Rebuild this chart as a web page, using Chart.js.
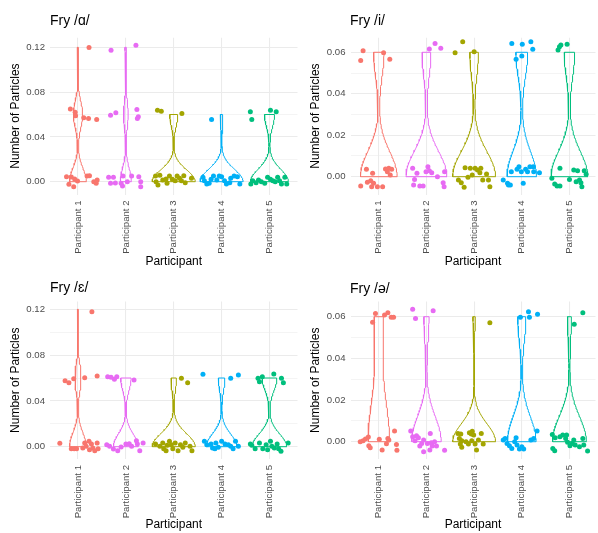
<!DOCTYPE html>
<html>
<head>
<meta charset="utf-8">
<script src="https://cdn.jsdelivr.net/npm/chart.js@4.4.1/dist/chart.umd.min.js"></script>
<style>
  html, body { margin: 0; padding: 0; background: #ffffff; }
  body { width: 598px; height: 533px; position: relative; overflow: hidden; }
  canvas { position: absolute; }
</style>
</head>
<body>
<canvas id="pA" width="300" height="270" style="left:0px;top:0px;"></canvas>
<canvas id="pI" width="298" height="270" style="left:300px;top:0px;"></canvas>
<canvas id="pE" width="300" height="263" style="left:0px;top:270px;"></canvas>
<canvas id="pS" width="298" height="263" style="left:300px;top:270px;"></canvas>
<script>
// Participants and their colours
const participants = ['Participant 1', 'Participant 2', 'Participant 3', 'Participant 4', 'Participant 5'];
const participantColors = ['#F8766D', '#E76BF3', '#A3A500', '#00B0F6', '#00BF7D'];

// Panel titles
const titleA = 'Fry /ɑ/';
const titleI = 'Fry /i/';
const titleE = 'Fry /ɛ/';
const titleS = 'Fry /ə/';

// Y axis ticks
const ticksWide = [0, 0.04, 0.08, 0.12];
const minorWide = [0.02, 0.06, 0.10];
const ticksNarrow = [0, 0.02, 0.04, 0.06];
const minorNarrow = [0.01, 0.03, 0.05];

// Jittered observations per participant: [horizontal jitter, number of particles]
const fryA = [
  [[0.23,0.1198],[-0.16,0.065],[-0.06,0.062],[-0.05,0.059],[0.12,0.057],[0.22,0.0565],[0.39,0.0556],[-0.24,0.0045],[-0.14,0.0042],[-0.07,0.0024],[-0.01,0.0006],[-0.19,-0.0023],[-0.09,-0.0045],[0.19,0.0051],[0.24,0.0053],[0.33,0.0],[0.38,-0.0014],[0.40,0.0015]],
  [[-0.31,0.1174],[0.21,0.1218],[-0.32,0.0594],[-0.21,0.0615],[0.23,0.0645],[0.26,0.058],[0.24,0.0565],[-0.36,0.0039],[-0.26,0.0039],[-0.32,-0.0014],[-0.22,-0.0012],[-0.10,-0.0014],[-0.07,-0.0038],[-0.06,0.0051],[0.12,0.0051],[0.27,0.0045],[0.31,0.0],[0.31,-0.0045],[0.03,0.0]],
  [[-0.34,0.0639],[-0.26,0.063],[0.17,0.061],[-0.38,0.0051],[-0.29,0.0057],[-0.37,0.0],[-0.33,-0.003],[-0.23,0.0015],[-0.16,0.0024],[-0.09,0.0051],[-0.03,0.0021],[0.03,0.0009],[0.12,0.003],[0.16,0.0009],[0.21,0.0053],[0.24,-0.0009],[0.37,0.003],[-0.14,-0.0014],[0.07,0.0051]],
  [[-0.21,0.0556],[-0.39,0.0039],[-0.36,0.0009],[-0.31,-0.0021],[-0.22,0.0021],[-0.17,0.0051],[-0.10,0.0015],[-0.05,0.0051],[0,0.0045],[0.06,0.0009],[0.10,-0.0021],[0.17,-0.0009],[0.26,0.0051],[0.33,0.0045],[0.38,-0.0021],[-0.26,-0.0014],[0.19,0.003]],
  [[-0.40,0.0624],[-0.37,0.0556],[0.02,0.0639],[0.14,0.0624],[-0.39,-0.0021],[-0.35,0.0009],[-0.28,-0.0009],[-0.23,0.0015],[-0.17,0],[-0.04,0.0039],[0.02,0.0021],[0.07,0.0009],[0.17,0.0039],[0.21,0.0009],[0.25,-0.0021],[0.32,0.0039],[0.36,-0.0021],[-0.10,-0.0014],[0.12,0]]
];
const fryI = [
  [[-0.33,0.0608],[-0.38,0.056],[0.10,0.0598],[0.23,0.0566],[-0.26,0.0036],[-0.13,0.0016],[-0.38,-0.0045],[-0.24,-0.0027],[-0.17,-0.0019],[-0.11,-0.0032],[-0.15,-0.0048],[-0.03,-0.0048],[0.08,-0.0048],[0.14,0.0037],[0.21,0.0041],[0.27,0.0036],[0.24,0.0008],[0.18,0.0024]],
  [[0.06,0.0616],[0.18,0.0643],[0.30,0.0619],[-0.29,0.0041],[-0.20,0.0016],[-0.25,-0.0013],[-0.27,-0.004],[-0.14,-0.0045],[-0.07,-0.0045],[-0.01,0.0024],[0.03,0.0048],[0.06,0.0029],[0.11,0.0019],[0.23,0],[0.38,0.0024],[0.35,-0.0029],[0.37,-0.0048]],
  [[-0.40,0.0598],[-0.24,0.0651],[0,0.0603],[-0.33,-0.0016],[-0.27,-0.0029],[-0.21,-0.0051],[-0.19,0.0043],[-0.08,0.0041],[-0.04,0.0008],[0.02,0.0041],[0.07,0.0032],[0.14,0.0041],[0.12,0.0019],[0.18,-0.0016],[0.26,0.0013],[0.30,-0.0016],[0.33,-0.0048],[-0.13,-0.0003]],
  [[-0.21,0.0643],[0.01,0.0639],[0.19,0.0651],[0.23,0.0615],[-0.12,0.0566],[0,0.0582],[-0.39,-0.0016],[-0.30,-0.0032],[-0.24,-0.004],[-0.22,0.0024],[-0.10,0.0036],[-0.06,0.0048],[-0.01,0.0024],[0.03,-0.0032],[0.08,0.0036],[0.12,0.0024],[0.17,0.0048],[0.24,0.0048],[0.25,0.0024],[0.37,0.0019],[-0.28,-0.004]],
  [[-0.24,0.0611],[-0.21,0.0627],[-0.18,0.0635],[-0.05,0.0639],[-0.37,-0.0008],[-0.31,-0.0035],[-0.26,-0.0045],[-0.20,0.0041],[-0.20,-0.0045],[0,-0.0013],[0.09,0.0032],[0.17,0.0029],[0.21,-0.0016],[0.24,-0.0029],[0.26,-0.0048],[0.31,0.0029],[0.35,0.0012],[0.14,-0.0024]]
];
const fryE = [
  [[0.29,0.1179],[-0.27,0.0576],[-0.19,0.0559],[-0.09,0.0594],[0.14,0.0603],[0.40,0.0617],[-0.38,0.003],[-0.14,-0.0017],[-0.08,-0.0017],[-0.03,-0.0017],[0.14,0.0032],[0.17,0.0003],[0.23,0.0047],[0.28,0.0024],[0.31,-0.0011],[0.24,-0.0026],[0.35,-0.0035],[0.40,0.0032],[0.42,-0.0017],[0.10,-0.0011]],
  [[-0.38,0.0611],[-0.31,0.0606],[-0.24,0.0589],[-0.19,0.0611],[0.17,0.0583],[-0.40,0.0018],[-0.34,0.0003],[-0.26,-0.002],[-0.17,-0.0035],[-0.10,-0.0003],[0,0.0024],[0.07,0.0026],[0.12,0.0003],[0.22,0.0052],[0.24,0.0024],[0.29,-0.0035],[0.36,0.0032]],
  [[0.16,0.0597],[0.29,0.0559],[-0.38,0.0024],[-0.29,0.0003],[-0.23,0.0032],[-0.21,-0.0017],[-0.14,0.0012],[-0.09,0.0047],[-0.05,0.0018],[-0.02,-0.0017],[0.03,0.0032],[0.09,-0.0035],[0.14,0.0018],[0.19,-0.0005],[0.24,0.0032],[0.34,0.0003],[0.38,-0.0035],[-0.16,-0.0035]],
  [[-0.39,0.0632],[0.19,0.0597],[0.35,0.0626],[-0.36,0.0047],[-0.31,0.0018],[-0.22,0.0024],[-0.19,-0.0011],[-0.14,-0.0017],[-0.12,0.0032],[0,0.0047],[0.07,0.0024],[0.14,0.0018],[0.19,0.0003],[0.24,-0.0017],[0.29,0.0047],[0.35,0.0003],[-0.07,-0.0005]],
  [[-0.24,0.0597],[-0.21,0.0568],[-0.15,0.0611],[0.09,0.0635],[0.25,0.0597],[0.29,0.0559],[-0.40,0.0024],[-0.37,0.0012],[-0.30,-0.0017],[-0.21,0.0032],[-0.14,-0.0017],[-0.07,0.0018],[0.02,0.0047],[0.05,0.0003],[0.10,-0.0011],[0.16,0.0024],[0.19,-0.0017],[0.24,-0.004],[0.39,0.0032],[-0.04,-0.0026]]
];
const fryS = [
  [[-0.13,0.0573],[-0.07,0.0616],[0.12,0.0608],[0.19,0.0619],[0.26,0.0597],[0.31,0.0597],[-0.39,0],[-0.33,0.0005],[-0.28,0.0013],[-0.22,0.0023],[-0.21,-0.0019],[-0.18,-0.0029],[0.01,0.0012],[0.07,-0.004],[0.16,-0.001],[0.21,0.0008],[0.33,0.0051],[0.37,-0.0013],[0.38,-0.0041],[0.19,0.0016]],
  [[-0.29,0.0636],[-0.23,0.0592],[0.14,0.0629],[-0.33,0.0051],[-0.29,0.0024],[-0.21,0.0029],[-0.17,0.0019],[-0.24,0.0005],[-0.10,-0.0008],[-0.06,0.0008],[0.02,-0.0008],[0.08,0.004],[0.10,-0.0005],[0.12,-0.0021],[0.07,-0.004],[-0.06,-0.0048],[0.17,0],[0.21,-0.0021],[0.38,-0.0041],[-0.14,-0.0021]],
  [[0.33,0.0571],[-0.34,0.004],[-0.28,0.0037],[-0.31,0.0016],[-0.26,0.0005],[-0.29,-0.0011],[-0.26,-0.0027],[-0.17,0],[-0.12,-0.0011],[-0.10,0.0043],[-0.06,0.0037],[-0.04,0.005],[-0.01,0.0032],[0.05,-0.004],[0.09,0.0008],[0.02,-0.0011],[0.15,0.004],[0.19,-0.0011],[-0.05,0.0005]],
  [[-0.03,0.0597],[0.14,0.0624],[0.16,0.0597],[0.33,0.0612],[-0.39,0.0008],[-0.35,0.0016],[-0.31,-0.0008],[-0.26,-0.0019],[-0.21,-0.0032],[-0.15,0],[-0.12,0.0019],[-0.10,-0.0016],[-0.05,-0.0035],[0,-0.0024],[0.04,-0.0035],[0.19,0.0008],[0.25,0.0016],[0.32,0.0051]],
  [[0.10,0.0564],[0.28,0.0619],[-0.36,0.0035],[-0.30,0.0019],[-0.35,-0.0032],[-0.31,-0.0043],[-0.20,0.0024],[-0.14,0.0032],[-0.08,0.0016],[-0.06,0.0032],[-0.04,-0.0003],[0.01,-0.0019],[0.06,-0.0008],[0.09,0.0008],[0.12,-0.0016],[0.21,-0.0024],[0.28,0.0016],[0.30,-0.0016],[0.38,-0.0045]]
];

// Violin maximum widths (category units) and kernel bandwidths
const widthA = [0.35, 0.23, 0.9, 0.9, 0.79];
const widthI = [0.77, 0.86, 0.9, 0.62, 0.77];
const widthE = [0.35, 0.52, 0.9, 0.64, 0.72];
const widthS = [0.45, 0.62, 0.9, 0.60, 0.71];
const bwA = [0.012, 0.012, 0.0105, 0.011, 0.011];
const bwI = [0.012, 0.012, 0.012, 0.012, 0.012];
const bwE = [0.012, 0.011, 0.0113, 0.011, 0.011];
const bwS = [0.02, 0.012, 0.0085, 0.012, 0.012];

// Particle counts come in steps of this size; jitter is removed by rounding to it
const countStep = 0.06;

const FONT = "'Liberation Sans', Arial, 'DejaVu Sans', sans-serif";
Chart.defaults.font.family = FONT;

// Gaussian kernel density outline, trimmed to the data range
function violinOutline(center, obs, width, bw) {
  const levels = obs.map(p => Math.round(p[1] / countStep) * countStep);
  const lo = Math.min(...levels), hi = Math.max(...levels);
  const n = 80;
  const ys = [], ds = [];
  for (let i = 0; i <= n; i++) {
    const y = lo + (hi - lo) * i / n;
    let d = 0;
    levels.forEach(v => { const z = (y - v) / bw; d += Math.exp(-0.5 * z * z); });
    ys.push(y); ds.push(d);
  }
  const dmax = Math.max(...ds);
  const right = ys.map((y, i) => ({ x: center + width / 2 * ds[i] / dmax, y }));
  const left = ys.map((y, i) => ({ x: center - width / 2 * ds[i] / dmax, y })).reverse();
  return right.concat(left, [right[0]]);
}

function makePanel(canvasId, cfg) {
  const datasets = [];
  cfg.obs.forEach((group, i) => {
    const c = i + 1;
    datasets.push({
      type: 'scatter',
      data: group.map(p => ({ x: c + p[0], y: p[1] })),
      backgroundColor: participantColors[i],
      borderWidth: 0,
      pointRadius: 2.5,
      pointHoverRadius: 2.5,
      order: 0
    });
    datasets.push({
      type: 'scatter',
      data: violinOutline(c, group, cfg.widths[i], cfg.bws[i]),
      showLine: true,
      borderColor: participantColors[i],
      borderWidth: 1,
      pointRadius: 0,
      fill: false,
      tension: 0,
      order: 1
    });
  });

  const allTicks = cfg.major.concat(cfg.minor).sort((a, b) => a - b);
  const isMajor = v => cfg.major.some(m => Math.abs(m - v) < 1e-9);

  const titlePlugin = {
    id: 'panelTitle',
    afterDraw(chart) {
      const ctx = chart.ctx;
      ctx.save();
      ctx.font = '14px ' + FONT;
      ctx.fillStyle = '#000000';
      ctx.textAlign = 'left';
      ctx.textBaseline = 'alphabetic';
      ctx.fillText(cfg.title, cfg.titleX, cfg.titleY);
      ctx.restore();
    }
  };

  new Chart(document.getElementById(canvasId), {
    type: 'scatter',
    data: { datasets },
    options: {
      responsive: false,
      animation: false,
      events: [],
      layout: { padding: { top: cfg.padTop, right: cfg.padRight, left: 0, bottom: 0 } },
      plugins: { legend: { display: false }, tooltip: { enabled: false } },
      scales: {
        x: {
          type: 'linear',
          min: cfg.xMin,
          max: cfg.xMax,
          afterBuildTicks: s => { s.ticks = participants.map((_, i) => ({ value: i + 1 })); },
          afterFit: s => { s.height = cfg.xAxisHeight; },
          ticks: {
            callback: v => participants[Math.round(v) - 1],
            autoSkip: false,
            minRotation: 90,
            maxRotation: 90,
            padding: 6,
            color: '#4D4D4D',
            font: { size: 9.6 }
          },
          grid: { color: '#EBEBEB', lineWidth: 1.05, drawTicks: false },
          border: { display: false },
          title: {
            display: true,
            text: 'Participant',
            color: '#000000',
            font: { size: 12 },
            padding: { top: 0, bottom: cfg.xTitlePad }
          }
        },
        y: {
          type: 'linear',
          min: cfg.yMin,
          max: cfg.yMax,
          afterBuildTicks: s => { s.ticks = allTicks.map(v => ({ value: v })); },
          afterFit: s => { s.width = cfg.yAxisWidth; },
          ticks: {
            callback: v => isMajor(v) ? v.toFixed(2) : '',
            padding: 5,
            color: '#4D4D4D',
            font: { size: 9.6 }
          },
          grid: {
            color: '#EBEBEB',
            lineWidth: ctx => isMajor(ctx.tick.value) ? 1.05 : 0.55,
            drawTicks: false
          },
          border: { display: false },
          title: {
            display: true,
            text: 'Number of Particles',
            color: '#000000',
            font: { size: 12 },
            padding: { top: 8.8, bottom: 0 }
          }
        }
      }
    },
    plugins: [titlePlugin]
  });
}

makePanel('pA', {
  obs: fryA, widths: widthA, bws: bwA, major: ticksWide, minor: minorWide, title: titleA,
  titleX: 50, titleY: 25, padTop: 37.7, padRight: 0, xAxisHeight: 75.5, yAxisWidth: 50,
  xMin: 0.415, xMax: 5.585, yMin: -0.01143, yMax: 0.1286, xTitlePad: 1.1
});
makePanel('pI', {
  obs: fryI, widths: widthI, bws: bwI, major: ticksNarrow, minor: minorNarrow, title: titleI,
  titleX: 50, titleY: 25, padTop: 37.7, padRight: 0, xAxisHeight: 75.5, yAxisWidth: 50.5,
  xMin: 0.406, xMax: 5.546, yMin: -0.00859, yMax: 0.06704, xTitlePad: 1.1
});
makePanel('pE', {
  obs: fryE, widths: widthE, bws: bwE, major: ticksWide, minor: minorWide, title: titleE,
  titleX: 50, titleY: 22, padTop: 31.5, padRight: 0, xAxisHeight: 74, yAxisWidth: 50,
  xMin: 0.415, xMax: 5.585, yMin: -0.01074, yMax: 0.12681, xTitlePad: 1.4
});
makePanel('pS', {
  obs: fryS, widths: widthS, bws: bwS, major: ticksNarrow, minor: minorNarrow, title: titleS,
  titleX: 50, titleY: 22.5, padTop: 31.5, padRight: 0, xAxisHeight: 74, yAxisWidth: 50.5,
  xMin: 0.406, xMax: 5.546, yMin: -0.0083, yMax: 0.0673, xTitlePad: 1.4
});
</script>
</body>
</html>
